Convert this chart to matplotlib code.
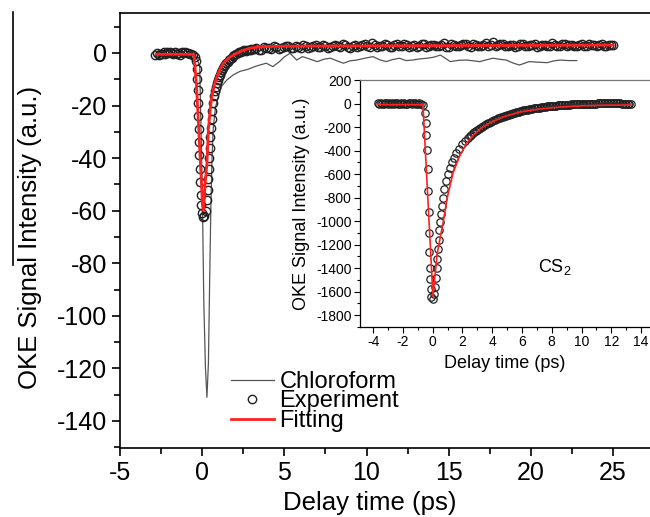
import numpy as np
import matplotlib
matplotlib.use('Agg')
import matplotlib.pyplot as plt
from matplotlib.lines import Line2D
from matplotlib.ticker import MultipleLocator

plt.rcParams['font.family'] = ['Liberation Sans', 'DejaVu Sans']
plt.rcParams['mathtext.fontset'] = 'custom'
plt.rcParams['mathtext.rm'] = 'Liberation Sans'
plt.rcParams['mathtext.it'] = 'Liberation Sans'
plt.rcParams['axes.unicode_minus'] = False

# ---- main panel: experiment (circles)
exp_pre_x = [-2.85, -2.75, -2.65, -2.55, -2.45, -2.35, -2.25, -2.15, -2.05, -1.95,
             -1.85, -1.75, -1.65, -1.55, -1.45, -1.35, -1.25, -1.15, -1.05, -0.95,
             -0.85, -0.75, -0.65, -0.55]
exp_pre_y = [-0.6, -0.2, -0.9, -0.4, -0.5, 0.2, -0.3, 0.3, -0.2, 0.4,
             0.1, -0.3, 0.2, -0.4, 0.0, -0.6, 0.3, -0.1, 0.4, -0.2,
             0.1, -0.5, -0.3, -0.7]
exp_dip_x = [-0.42, -0.36, -0.33, -0.30, -0.28, -0.26, -0.24, -0.22, -0.20, -0.18,
             -0.16, -0.13, -0.10, -0.06, -0.02, 0.05, 0.12,
             0.25, 0.30, 0.34, 0.38, 0.41, 0.44, 0.47, 0.50, 0.53, 0.57,
             0.61, 0.66, 0.72, 0.78, 0.84, 0.90, 0.96, 1.02, 1.08, 1.14,
             1.20, 1.27, 1.34, 1.41, 1.48, 1.56, 1.64, 1.72, 1.80, 1.88,
             1.96, 2.05, 2.15, 2.25, 2.35, 2.45, 2.55, 2.65, 2.75, 2.85, 2.95]
exp_dip_y = [-1.5, -3, -6, -10, -14, -19, -24, -29, -34, -39,
             -44, -49, -54, -58, -61, -62.5, -62,
             -60, -56, -52, -48, -44, -40, -36, -32, -28.5, -25,
             -22, -19, -16.5, -14.5, -12.8, -11.5, -10.2, -9.0, -8.2, -7.2,
             -6.5, -5.8, -5.0, -4.5, -3.8, -3.3, -2.8, -2.2, -1.8, -1.2,
             -0.9, -0.4, -0.1, 0.3, 0.5, 0.8, 1.0, 0.8, 1.3, 1.1, 1.5]
exp_tail_x = [3.0, 3.3, 3.6, 3.9, 4.2, 4.5, 4.8, 5.1, 5.4, 5.7,
              6.0, 6.3, 6.6, 6.9, 7.2, 7.5, 7.8, 8.1, 8.4, 8.7,
              9.0, 9.3, 9.6, 9.9, 10.2, 10.5, 10.8, 11.1, 11.4, 11.7,
              12.0, 12.3, 12.6, 12.9, 13.2, 13.5, 13.8, 14.1, 14.4, 14.7,
              15.0, 15.3, 15.6, 15.9, 16.2, 16.5, 16.8, 17.1, 17.4, 17.7,
              18.0, 18.3, 18.6, 18.9, 19.2, 19.5, 19.8, 20.1, 20.4, 20.7,
              21.0, 21.3, 21.6, 21.9, 22.2, 22.5, 22.8, 23.1, 23.4, 23.7,
              24.0, 24.3, 24.6, 24.9, 25.0]
exp_tail_y = [1.3, 1.8, 1.2, 2.0, 1.6, 2.3, 1.8, 2.5, 2.0, 2.7,
              1.9, 2.6, 2.2, 3.0, 2.1, 2.8, 2.4, 3.2, 2.2, 2.9,
              2.0, 3.1, 2.5, 3.4, 2.3, 3.0, 2.6, 3.5, 2.4, 3.1,
              2.7, 3.3, 2.2, 3.0, 2.6, 3.4, 2.5, 3.2, 2.8, 3.6,
              2.4, 3.1, 2.7, 3.3, 2.5, 3.5, 2.8, 3.2, 2.6, 4.0,
              2.9, 3.3, 2.5, 3.1, 2.7, 3.5, 2.8, 3.2, 2.4, 3.0,
              2.7, 3.6, 2.8, 3.3, 2.6, 3.1, 2.7, 3.4, 2.6, 3.2,
              2.8, 3.3, 2.7, 3.1, 2.9]
exp_tail2_x = [3.15, 3.45, 3.75, 4.05, 4.35, 4.65, 4.95, 5.25, 5.55, 5.85,
               6.15, 6.45, 6.75, 7.05, 7.35, 7.65, 7.95, 8.25, 8.55, 8.85,
               9.15, 9.45, 9.75, 10.05, 10.35, 10.65, 10.95, 11.25, 11.55, 11.85,
               12.15, 12.45, 12.75, 13.05, 13.35, 13.65, 13.95, 14.25, 14.55, 14.85,
               15.15, 15.45, 15.75, 16.05, 16.35, 16.65, 16.95, 17.25, 17.55, 17.85,
               18.15, 18.45, 18.75, 19.05, 19.35, 19.65, 19.95, 20.25, 20.55, 20.85,
               21.15, 21.45, 21.75, 22.05, 22.35, 22.65, 22.95, 23.25, 23.55, 23.85,
               24.15, 24.45, 24.75]
exp_tail2_y = [1.6, 1.1, 2.2, 1.9, 2.6, 1.5, 2.2, 2.8, 1.8, 2.3,
               2.9, 1.8, 2.6, 2.4, 3.1, 2.0, 2.7, 2.5, 3.3, 2.1,
               2.8, 2.2, 3.0, 2.6, 3.6, 2.1, 2.8, 2.9, 2.3, 3.4,
               2.5, 3.0, 2.7, 2.3, 3.5, 2.4, 3.0, 2.6, 3.1, 2.2,
               3.3, 2.6, 2.9, 3.4, 2.3, 3.0, 2.6, 3.6, 3.1, 2.5,
               3.4, 2.7, 3.0, 2.4, 3.3, 2.6, 3.0, 3.5, 2.7, 3.2,
               2.5, 3.0, 2.6, 3.4, 2.9, 2.5, 3.2, 2.8, 3.5, 2.9,
               3.0, 2.6, 3.2]

# ---- main panel: fitting curve
fit_x = [-2.8, -0.5, -0.35, -0.2, -0.05, 0.02, 0.08, 0.18, 0.29, 0.38,
         0.5, 0.59, 0.75, 0.9, 1.1, 1.3, 1.6, 1.9, 2.4, 2.9,
         3.5, 4.3, 6.0, 10.0, 15.0, 20.0, 25.0]
fit_y = [-0.5, -0.5, -12, -30, -49, -58, -60, -50, -42, -29,
         -21, -16.6, -12, -9, -6, -3.9, -2.0, -0.8, 0.8, 1.8,
         2.3, 2.5, 2.6, 2.7, 2.8, 2.9, 3.0]

# ---- main panel: chloroform reference trace
chl_x = [-0.4, -0.15, 0.0, 0.1, 0.2, 0.29, 0.38, 0.46, 0.53, 0.6,
         0.67, 0.8, 0.97, 1.2, 1.5, 1.9, 2.3, 2.8, 3.2, 3.5,
         3.9, 4.3, 4.7, 5.0, 5.35, 5.75, 6.1, 6.5, 7.0, 7.4,
         7.8, 8.2, 8.6, 9.0, 9.4, 9.9, 10.4, 10.8, 11.2, 11.6,
         12.0, 12.4, 12.8, 13.2, 13.7, 14.1, 14.5, 15.1, 15.6, 16.1,
         16.5, 16.9, 17.3, 17.7, 18.1, 18.5, 18.9, 19.3, 19.9, 20.4,
         21.0, 21.4, 21.8, 22.3, 22.8]
chl_y = [-1, -5, -50, -95, -120, -131, -118, -85, -58, -40,
         -29, -21, -16.7, -12.5, -10.3, -8.3, -7.0, -6.2, -5.2, -4.6,
         -3.9, -5.2, -3.3, -1.5, -0.1, -2.7, -1.4, -2.2, -3.3, -2.4,
         -2.0, -3.0, -3.9, -3.0, -2.7, -2.0, -1.4, -2.6, -3.3, -2.5,
         -2.0, -2.9, -2.7, -2.3, -2.0, -1.6, -0.8, -3.3, -2.8, -2.7,
         -3.0, -3.3, -2.6, -2.0, -2.4, -2.7, -3.8, -4.6, -3.3, -3.5,
         -3.7, -3.0, -2.7, -2.9, -2.9]

# ---- inset (CS2): experiment
cs2_pre_x = [-3.7, -3.6, -3.5, -3.4, -3.3, -3.2, -3.1, -3.0, -2.9, -2.8,
             -2.7, -2.6, -2.5, -2.4, -2.3, -2.2, -2.1, -2.0, -1.9, -1.8,
             -1.7, -1.6, -1.5, -1.4, -1.3, -1.2, -1.1, -1.0, -0.9, -0.8]
cs2_pre_y = [2, -3, 4, 0, -2, 3, 1, -4, 2, 0,
             3, -2, 1, 4, 0, -3, 2, -1, 3, 0,
             -2, 2, 4, -1, 1, 3, -2, 0, 2, -5]
cs2_dip_x = [-0.65, -0.54, -0.47, -0.42, -0.36, -0.33, -0.29, -0.27, -0.25, -0.23,
             -0.21, -0.18, -0.14, -0.08, 0.0,
             0.1, 0.18, 0.24, 0.28, 0.32, 0.36, 0.40, 0.44, 0.48, 0.54,
             0.6, 0.68, 0.78, 0.9, 1.02, 1.15, 1.3, 1.45, 1.6, 1.8,
             2.0, 2.2, 2.4]
cs2_dip_y = [-14, -84, -169, -268, -394, -557, -740, -923, -1103, -1266,
             -1401, -1491, -1575, -1646, -1665,
             -1620, -1560, -1480, -1400, -1320, -1240, -1160, -1080, -1010, -940,
             -870, -800, -730, -660, -600, -550, -500, -460, -425, -385,
             -345, -315, -290]
cs2_tail_x = [2.5, 2.6, 2.7, 2.8, 2.9, 3.0, 3.1, 3.2, 3.3, 3.4,
              3.5, 3.6, 3.7, 3.8, 3.9, 4.0, 4.1, 4.2, 4.3, 4.4,
              4.5, 4.6, 4.7, 4.8, 4.9, 5.0, 5.1, 5.2, 5.3, 5.4,
              5.5, 5.6, 5.7, 5.8, 5.9, 6.0, 6.1, 6.2, 6.3, 6.4,
              6.5, 6.6, 6.7, 6.8, 6.9, 7.0, 7.1, 7.2, 7.3, 7.4,
              7.5, 7.6, 7.7, 7.8, 7.9, 8.0, 8.1, 8.2, 8.3, 8.4,
              8.5, 8.6, 8.7, 8.8, 8.9, 9.0, 9.1, 9.2, 9.3, 9.4,
              9.5, 9.6, 9.7, 9.8, 9.9, 10.0, 10.1, 10.2, 10.3, 10.4,
              10.5, 10.6, 10.7, 10.8, 10.9, 11.0, 11.1, 11.2, 11.3, 11.4,
              11.5, 11.6, 11.7, 11.8, 11.9, 12.0, 12.1, 12.2, 12.3, 12.4,
              12.5, 12.6, 12.7, 12.8, 12.9, 13.0, 13.1, 13.2, 13.3]
cs2_tail_y = [-275, -265, -255, -245, -235, -225, -216, -208, -200, -192,
              -184, -177, -170, -163, -156, -150, -144, -138, -132, -127,
              -122, -117, -112, -107, -102, -98, -94, -90, -86, -82,
              -78, -75, -71, -68, -65, -62, -59, -56, -53, -51,
              -48, -46, -44, -42, -40, -38, -36, -34, -32, -30,
              -28, -27, -25, -24, -22, -21, -20, -19, -17, -16,
              -15, -14, -13, -12, -11, -10, -9, -9, -8, -7,
              -6, -6, -5, -5, -4, -4, -3, -3, -2, -2,
              -1, -1, 0, 0, 0, 0, 1, 1, 1, 1,
              1, 1, 2, 2, 2, 2, 1, 1, 1, 1,
              1, 1, 0, 0, 0, 0, -1, -1, -3]

# ---- inset: fitting curve
cs2_fit_x = [-3.7, -0.65, 0.02, 0.3, 0.7, 1.0, 1.37, 1.8, 2.28, 2.8,
             3.4, 4.0, 4.75, 5.9, 7.0, 8.0, 9.0, 10.0, 11.0, 12.0, 13.3]
cs2_fit_y = [-10, -10, -1640, -1280, -1013, -790, -591, -450, -338, -260,
             -197, -155, -113, -71, -50, -36, -27, -20, -16, -14, -13]

ticks_main_x = [-5, 0, 5, 10, 15, 20, 25]
ticks_main_y = [-140, -120, -100, -80, -60, -40, -20, 0]
ticks_cs2_x = [-4, -2, 0, 2, 4, 6, 8, 10, 12, 14]
ticks_cs2_y = [200, 0, -200, -400, -600, -800, -1000, -1200, -1400, -1600, -1800]

fig = plt.figure(figsize=(6.5, 5.17), dpi=100)
ax = fig.add_axes([120/650, 1-448/517, 530/650, 435/517])

red = '#ff2020'
edge = '#222222'

exp_x = exp_pre_x + exp_dip_x + exp_tail_x + exp_tail2_x
exp_y = exp_pre_y + exp_dip_y + exp_tail_y + exp_tail2_y

ax.plot(chl_x, chl_y, color='#555555', lw=0.9, label='Chloroform', zorder=2)
ax.plot(exp_x, exp_y, ls='none', marker='o', ms=6, mfc='none', mec=edge,
        mew=1.0, label='Experiment', zorder=3)
ax.plot(fit_x, fit_y, color=red, lw=2, label='Fitting', zorder=4)

ax.set_xlim(-5, 27.25)
ax.set_ylim(-150.3, 15.2)
ax.set_xticks(ticks_main_x)
ax.set_yticks(ticks_main_y)
ax.xaxis.set_minor_locator(MultipleLocator(2.5))
ax.yaxis.set_minor_locator(MultipleLocator(10))
ax.tick_params(which='both', direction='out', width=1.2, top=False, right=False)
ax.tick_params(which='major', length=6, labelsize=18, pad=3)
ax.tick_params(which='minor', length=4)
for s in ['left', 'bottom', 'top']:
    ax.spines[s].set_linewidth(1.2)
ax.spines['right'].set_visible(False)
ax.set_xlabel('Delay time (ps)', fontsize=18.5)
ax.set_ylabel('OKE Signal Intensity (a.u.)', fontsize=18.5)
ax.xaxis.set_label_coords(0.472, -0.098)
ax.yaxis.set_label_coords(-0.148, 0.485)

leg = ax.legend(loc='upper left', bbox_to_anchor=(231/650, 1-371/517),
                bbox_transform=fig.transFigure, frameon=False, fontsize=17,
                handlelength=1.8, handletextpad=0.25, labelspacing=-0.11,
                borderpad=0, borderaxespad=0)

# inset
ins = fig.add_axes([360/650, 1-327/517, 290/650, 247/517])
ins.plot(cs2_pre_x + cs2_dip_x + cs2_tail_x, cs2_pre_y + cs2_dip_y + cs2_tail_y,
         ls='none', marker='o', ms=5.3, mfc='none', mec=edge, mew=0.9, zorder=3)
ins.plot(cs2_fit_x, cs2_fit_y, color=red, lw=1.2, zorder=4)
ins.set_xlim(-4.88, 14.6)
ins.set_ylim(-1901, 200)
ins.set_xticks(ticks_cs2_x)
ins.set_yticks(ticks_cs2_y)
ins.xaxis.set_minor_locator(MultipleLocator(1))
ins.yaxis.set_minor_locator(MultipleLocator(100))
ins.tick_params(which='both', direction='out', width=0.8, top=False, right=False)
ins.tick_params(which='major', length=4, labelsize=10, pad=2)
ins.tick_params(which='minor', length=2.5)
for s in ['left', 'bottom', 'top']:
    ins.spines[s].set_linewidth(0.9)
ins.spines['top'].set_color('#777777')
ins.spines['right'].set_visible(False)
ins.set_xlabel('Delay time (ps)', fontsize=13)
ins.set_ylabel('OKE Signal Intensity (a.u.)', fontsize=13)
ins.text(8.2, -1390, 'CS$_2$', fontsize=13, ha='center', va='center')

# stray vertical rule at the far left of the original figure
fig.add_artist(Line2D([12.5/650, 12.5/650], [1-12/517, 1-265/517],
                      transform=fig.transFigure, color='black', lw=1.2))

fig.savefig('out.png', dpi=100)
